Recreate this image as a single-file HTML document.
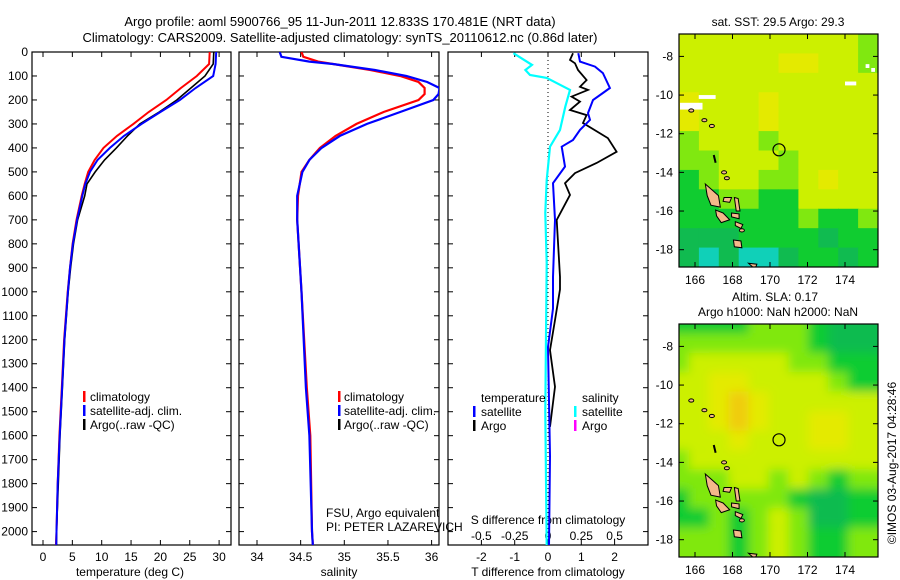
<!DOCTYPE html>
<html><head><meta charset="utf-8"><style>
body{margin:0;background:#fff}
svg{display:block;font-family:"Liberation Sans",sans-serif}
</style></head><body>
<svg id="c" width="900" height="580" viewBox="0 0 900 580">
<defs><filter id="bl" x="0" y="0" width="1" height="1"><feGaussianBlur stdDeviation="5"/></filter>
<clipPath id="cp1"><rect x="32" y="52" width="199" height="493"/></clipPath>
<clipPath id="cp2"><rect x="239" y="52" width="200" height="493"/></clipPath>
<clipPath id="cp3"><rect x="448" y="52" width="200" height="493"/></clipPath>
<clipPath id="cm1"><rect x="679" y="34" width="199" height="233"/></clipPath>
<clipPath id="cm2"><rect x="679" y="324" width="199" height="233"/></clipPath>
</defs>
<text x="340" y="26" font-size="13" text-anchor="middle">Argo profile: aoml 5900766_95 11-Jun-2011 12.833S 170.481E (NRT data)</text>
<text x="340" y="42" font-size="13" text-anchor="middle">Climatology: CARS2009. Satellite-adjusted climatology: synTS_20110612.nc (0.86d later)</text>
<g id="g"></g>
</svg>
<script>
// ---- data ----
const tDepth = [0,50,100,150,200,250,300,350,400,450,500,550,600,700,800,900,1000,1200,1400,1600,1800,2000,2060];
const tClim  = [28.4,28.3,26.2,23.5,21.0,18.0,15.4,12.6,10.3,8.8,7.7,7.1,6.6,5.7,5.05,4.6,4.2,3.6,3.2,2.8,2.5,2.3,2.2];
const tSat   = [29.5,29.4,29.0,26.0,23.3,20.0,16.8,13.8,11.4,9.3,8.0,7.2,6.7,5.8,5.1,4.6,4.25,3.65,3.25,2.85,2.5,2.3,2.25];
const tArgo  = [29.1,29.0,27.6,25.2,22.8,19.8,16.5,14.4,12.5,10.5,8.9,7.5,7.1,5.9,5.2,4.7,4.3,3.7,3.3,2.9,2.6,2.3,2.3];
const sDepth = [0,20,40,50,75,100,125,150,175,200,250,300,350,400,450,500,600,700,1000,1400,1600,2000,2060];
const sClim  = [34.51,34.53,34.7,34.87,35.3,35.64,35.85,35.92,35.92,35.85,35.45,35.14,34.9,34.72,34.6,34.51,34.47,34.46,34.51,34.57,34.61,34.63,34.64];
const sSat   = [34.26,34.28,34.6,34.87,35.35,35.71,35.95,36.09,36.08,36.02,35.64,35.26,34.95,34.74,34.6,34.52,34.46,34.46,34.51,34.56,34.6,34.63,34.64];
const dDepthSat = [5,40,61,88,150,171,200,255,283,325,367,395,478,547,700,938,1070,1230,1685,2060];
const dTSat     = [0.91,0.96,1.41,1.65,1.86,1.65,1.35,1.2,1.26,0.96,0.75,0.41,0.51,0.15,0.21,0.15,0.15,0,0.06,0.03];
const dDepthArgo = [5,33,47,75,117,145,158,186,207,242,263,296,359,416,463,505,547,596,700,938,990,1118,1243,1396,1563];
const dTArgo     = [0.75,0.66,0.81,0.9,1.16,0.96,1.2,0.71,0.96,0.66,1.16,1.05,1.8,2.06,1.46,0.81,0.51,0.66,0.26,0.36,0.36,0.21,0.06,0.21,0.06];
const dDepthS = [5,54,75,96,108,158,228,325,395,534,672,880,1500,2060];
const dSSat   = [-0.26,-0.12,-0.17,-0.135,-0.01,0.165,0.13,0.09,0.015,-0.01,-0.02,-0.01,-0.02,-0.01];
const depthTicks = [0,100,200,300,400,500,600,700,800,900,1000,1100,1200,1300,1400,1500,1600,1700,1800,1900,2000];
const tTicks = [0,5,10,15,20,25,30];
const sTicks = [34,34.5,35,35.5,36];
const sTickLabels = ["34","34.5","35","35.5","36"];
const dTTicks = [-2,-1,0,1,2];
const dSTicks = [-0.5,-0.25,0,0.25,0.5];
const dSTickLabels = ["-0.5","-0.25","0","0.25","0.5"];
const latTicks = [-8,-10,-12,-14,-16,-18];
const lonTicks = [166,168,170,172,174];
const sstGrid = [
[4,4,4,4,4,4,4,4,4,3],[4,4,4,4,4,5,5,4,4,3],[4,4,4,4,4,4,4,4,4,4],[5,4,4,4,5,4,4,4,4,4],
[5,4,4,4,5,4,4,4,4,4],[3,4,4,4,3,4,4,4,4,4],[3,3,4,4,4,3,4,4,4,4],[2,3,4,4,3,3,4,5,4,4],
[2,2,3,3,2,2,4,4,4,4],[2,2,2,2,2,2,3,2,2,3],[1,1,1,2,2,2,2,1,2,2],[1,0,1,0,0,1,2,2,1,2]];
const slaGrid = [
[2,2,2,2,3,3,3,2,1,1],[3,3,3,3,3,3,3,2,1,1],[3,4,4,4,4,4,3,3,2,2],[4,4,5,5,4,4,4,4,3,2],
[4,4,5,6,5,4,4,4,4,4],[4,4,5,6,5,4,4,5,5,4],[4,4,4,5,4,4,4,5,5,4],[3,4,4,4,4,4,4,4,4,4],
[3,3,3,4,4,3,4,3,2,3],[2,3,3,3,3,3,2,1,1,2],[2,2,3,2,3,4,3,1,1,2],[3,3,3,2,3,4,3,2,2,3]];
const palette = ["#10d0b8","#10bb50","#10cc30","#80e810","#ccf000","#e4ea00","#f0cc10"];
const argoLon = 170.481, argoLat = -12.833;

// ---- helpers ----
const NS="http://www.w3.org/2000/svg", G=document.getElementById('g');
function mk(tag,at,parent){const e=document.createElementNS(NS,tag);for(const k in at)e.setAttribute(k,at[k]);(parent||G).appendChild(e);return e;}
function txt(x,y,s,at,p){const e=mk('text',Object.assign({x:x,y:y,'font-size':12},at||{}),p);e.textContent=s;return e;}
const yD = d => 52 + d*0.2398;
const xT = t => 43 + t*5.87;
const xS = s => 257 + (s-34)*87.3;
const xDT = t => 548 + t*33.3;
const xDS = s => 548 + s*4*33.3;
function line(xs,ys,xf,yf,col,w,clip,name){
  const p=mk('polyline',{points:xs.map((v,i)=>xf(v).toFixed(1)+','+yf(ys[i]).toFixed(1)).join(' '),fill:'none',stroke:col,'stroke-width':w,'clip-path':'url(#'+clip+')'});
  
  
  return p;
}
function frame(x,w,name){
  const r=mk('rect',{x:x,y:52,width:w,height:493,fill:'none',stroke:'#000','stroke-width':1.2});
  
  
  depthTicks.forEach(d=>{mk('line',{x1:x,x2:x+5,y1:yD(d),y2:yD(d),stroke:'#000'});mk('line',{x1:x+w-5,x2:x+w,y1:yD(d),y2:yD(d),stroke:'#000'});});
}
// panel 1
frame(32,199,'temperature-panel');
depthTicks.forEach(d=>{const t=txt(28,yD(d)+4,String(d),{'text-anchor':'end'});});
tTicks.forEach(v=>{mk('line',{x1:xT(v),x2:xT(v),y1:545,y2:540,stroke:'#000'});mk('line',{x1:xT(v),x2:xT(v),y1:52,y2:57,stroke:'#000'});const t=txt(xT(v),561,String(v),{'text-anchor':'middle'});});
txt(130,576,'temperature (deg C)',{'text-anchor':'middle'});
line(tClim,tDepth,xT,yD,'#f00',2,'cp1','temperature-climatology-line');
line(tArgo,tDepth,xT,yD,'#000',1.6,'cp1','temperature-argo-line');
line(tSat,tDepth,xT,yD,'#00f',2,'cp1','temperature-satellite-line');
// panel 2
frame(239,200,'salinity-panel');
sTicks.forEach((v,i)=>{mk('line',{x1:xS(v),x2:xS(v),y1:545,y2:540,stroke:'#000'});mk('line',{x1:xS(v),x2:xS(v),y1:52,y2:57,stroke:'#000'});const t=txt(xS(v),561,sTickLabels[i],{'text-anchor':'middle'});});
txt(339,576,'salinity',{'text-anchor':'middle'});
line(sClim,sDepth,xS,yD,'#f00',2.2,'cp2','salinity-climatology-line');
line(sSat,sDepth,xS,yD,'#00f',2.2,'cp2','salinity-satellite-line');
// legends 1 & 2
[[83,90],[338,344]].forEach(([mx,tx],k)=>{
  const lg=mk('g',{});
  
  
  [['#f00','climatology'],['#00f','satellite-adj. clim.'],['#000','Argo(..raw -QC)']].forEach(([c,s],i)=>{
    mk('rect',{x:mx,y:391+i*14,width:2.5,height:11,fill:c},lg);txt(tx,401+i*14,s,{},lg);});
});
txt(326,517,'FSU, Argo equivalent');
txt(326,531,'PI: PETER LAZAREVICH');
// panel 3
frame(448,200,'difference-panel');
mk('line',{x1:548,x2:548,y1:52,y2:545,stroke:'#000','stroke-dasharray':'1,3'});
dTTicks.forEach(v=>{mk('line',{x1:xDT(v),x2:xDT(v),y1:545,y2:540,stroke:'#000'});mk('line',{x1:xDT(v),x2:xDT(v),y1:52,y2:57,stroke:'#000'});const t=txt(xDT(v),561,String(v),{'text-anchor':'middle'});});
dSTicks.forEach((v,i)=>{const t=txt(xDS(v),540,dSTickLabels[i],{'text-anchor':'middle'});});
txt(548,524,'S difference from climatology',{'text-anchor':'middle'});
txt(548,576,'T difference from climatology',{'text-anchor':'middle'});
line(dSSat,dDepthS,xDS,yD,'#0ff',2.2,'cp3','salinity-satellite-diff-line');
line(dTArgo,dDepthArgo,xDT,yD,'#000',1.8,'cp3','temperature-argo-diff-line');
line(dTSat,dDepthSat,xDT,yD,'#00f',2,'cp3','temperature-satellite-diff-line');
const lg3=mk('g',{});


txt(481,402,'temperature',{},lg3);txt(582,402,'salinity',{},lg3);
[['#00f','satellite',473],['#000','Argo',473],['#0ff','satellite',574],['#f0f','Argo',574]].forEach(([c,s,x],i)=>{
  const r=i%2;mk('rect',{x:x,y:406+r*14,width:2.5,height:11,fill:c},lg3);txt(x+8,416+r*14,s,{},lg3);});
// maps
const mX = lon => 695 + (lon-166)*18.75;
function map(y0,grid,blur,clip,name){
  const mg=mk('g',{'clip-path':'url(#'+clip+')'});
  
  
  const mY = lat => y0+22.4 + (-8-lat)*19.33;
  const inner=mk('g',blur?{filter:'url(#bl)'}:{},mg);
  const cw=199/10, ch=233/12;
  grid.forEach((row,r)=>row.forEach((v,c)=>mk('rect',{x:(679+c*cw-(blur?10:0)),y:(y0+r*ch-(blur?10:0)),width:cw+(blur?20:0.6),height:ch+(blur?20:0.6),fill:palette[v]},inner)));
  if(!blur){[[165.2,-10.4,1.2,0.35],[166.2,-10.0,0.9,0.2],[174.0,-9.3,0.6,0.2],[175.1,-8.4,0.2,0.2],[175.4,-8.6,0.2,0.2]].forEach(([lo,la,w,h])=>mk('rect',{x:mX(lo),y:mY(la),width:w*18.75,height:h*19.33,fill:'#fff'},mg));}
  const isl=[[[166.55,-14.6],[166.9,-14.9],[167.25,-15.2],[167.35,-15.8],[166.85,-15.7],[166.65,-15.2]],
    [[167.1,-15.95],[167.5,-16.1],[167.85,-16.45],[167.4,-16.6],[167.15,-16.25]],
    [[168.05,-17.5],[168.45,-17.55],[168.5,-17.9],[168.1,-17.85]],
    [[168.1,-15.3],[168.3,-15.35],[168.4,-16.0],[168.2,-16.0]],
    [[167.95,-16.1],[168.35,-16.15],[168.35,-16.4],[167.95,-16.3]],
    [[168.15,-16.55],[168.55,-16.7],[168.45,-16.9],[168.15,-16.75]],
    [[167.55,-15.3],[167.95,-15.3],[167.85,-15.55],[167.5,-15.5]],
    [[168.85,-18.7],[169.3,-18.75],[169.2,-19.0]]];
  isl.forEach(pts=>mk('polygon',{points:pts.map(p=>mX(p[0])+','+mY(p[1])).join(' '),fill:'#f5b88a',stroke:'#000','stroke-width':1},mg));
  [[167.7,-14.3],[167.55,-14.0],[166.9,-11.6],[165.8,-10.8],[166.5,-11.3],[168.5,-17.0]].forEach(p=>mk('ellipse',{cx:mX(p[0]),cy:mY(p[1]),rx:2.5,ry:1.6,fill:'#f5b88a',stroke:'#000'},mg));
  mk('line',{x1:mX(167.0),y1:mY(-13.1),x2:mX(167.1),y2:mY(-13.5),stroke:'#000','stroke-width':2},mg);
  const ci=mk('circle',{cx:mX(argoLon),cy:mY(argoLat),r:6,fill:'none',stroke:'#000','stroke-width':1.2});
  
  
  mk('rect',{x:679,y:y0,width:199,height:233,fill:'none',stroke:'#000','stroke-width':1.2});
  latTicks.forEach(l=>{mk('line',{x1:679,x2:684,y1:mY(l),y2:mY(l),stroke:'#000'});mk('line',{x1:873,x2:878,y1:mY(l),y2:mY(l),stroke:'#000'});const t=txt(673,mY(l)+4,String(l),{'text-anchor':'end'});});
  lonTicks.forEach(l=>{mk('line',{x1:mX(l),x2:mX(l),y1:y0+233,y2:y0+228,stroke:'#000'});mk('line',{x1:mX(l),x2:mX(l),y1:y0,y2:y0+5,stroke:'#000'});const t=txt(mX(l),y0+250,String(l),{'text-anchor':'middle'});});
}
map(34,sstGrid,false,'cm1','sst-map');
map(324,slaGrid,true,'cm2','sla-map');
txt(778,26,'sat. SST: 29.5 Argo: 29.3',{'text-anchor':'middle'});
txt(775,301,'Altim. SLA: 0.17',{'text-anchor':'middle'});
txt(778,316,'Argo h1000: NaN h2000: NaN',{'text-anchor':'middle'});
txt(0,0,'©IMOS 03-Aug-2017 04:28:46',{'text-anchor':'middle',transform:'translate(896,463) rotate(-90)'});
</script>
</body></html>
